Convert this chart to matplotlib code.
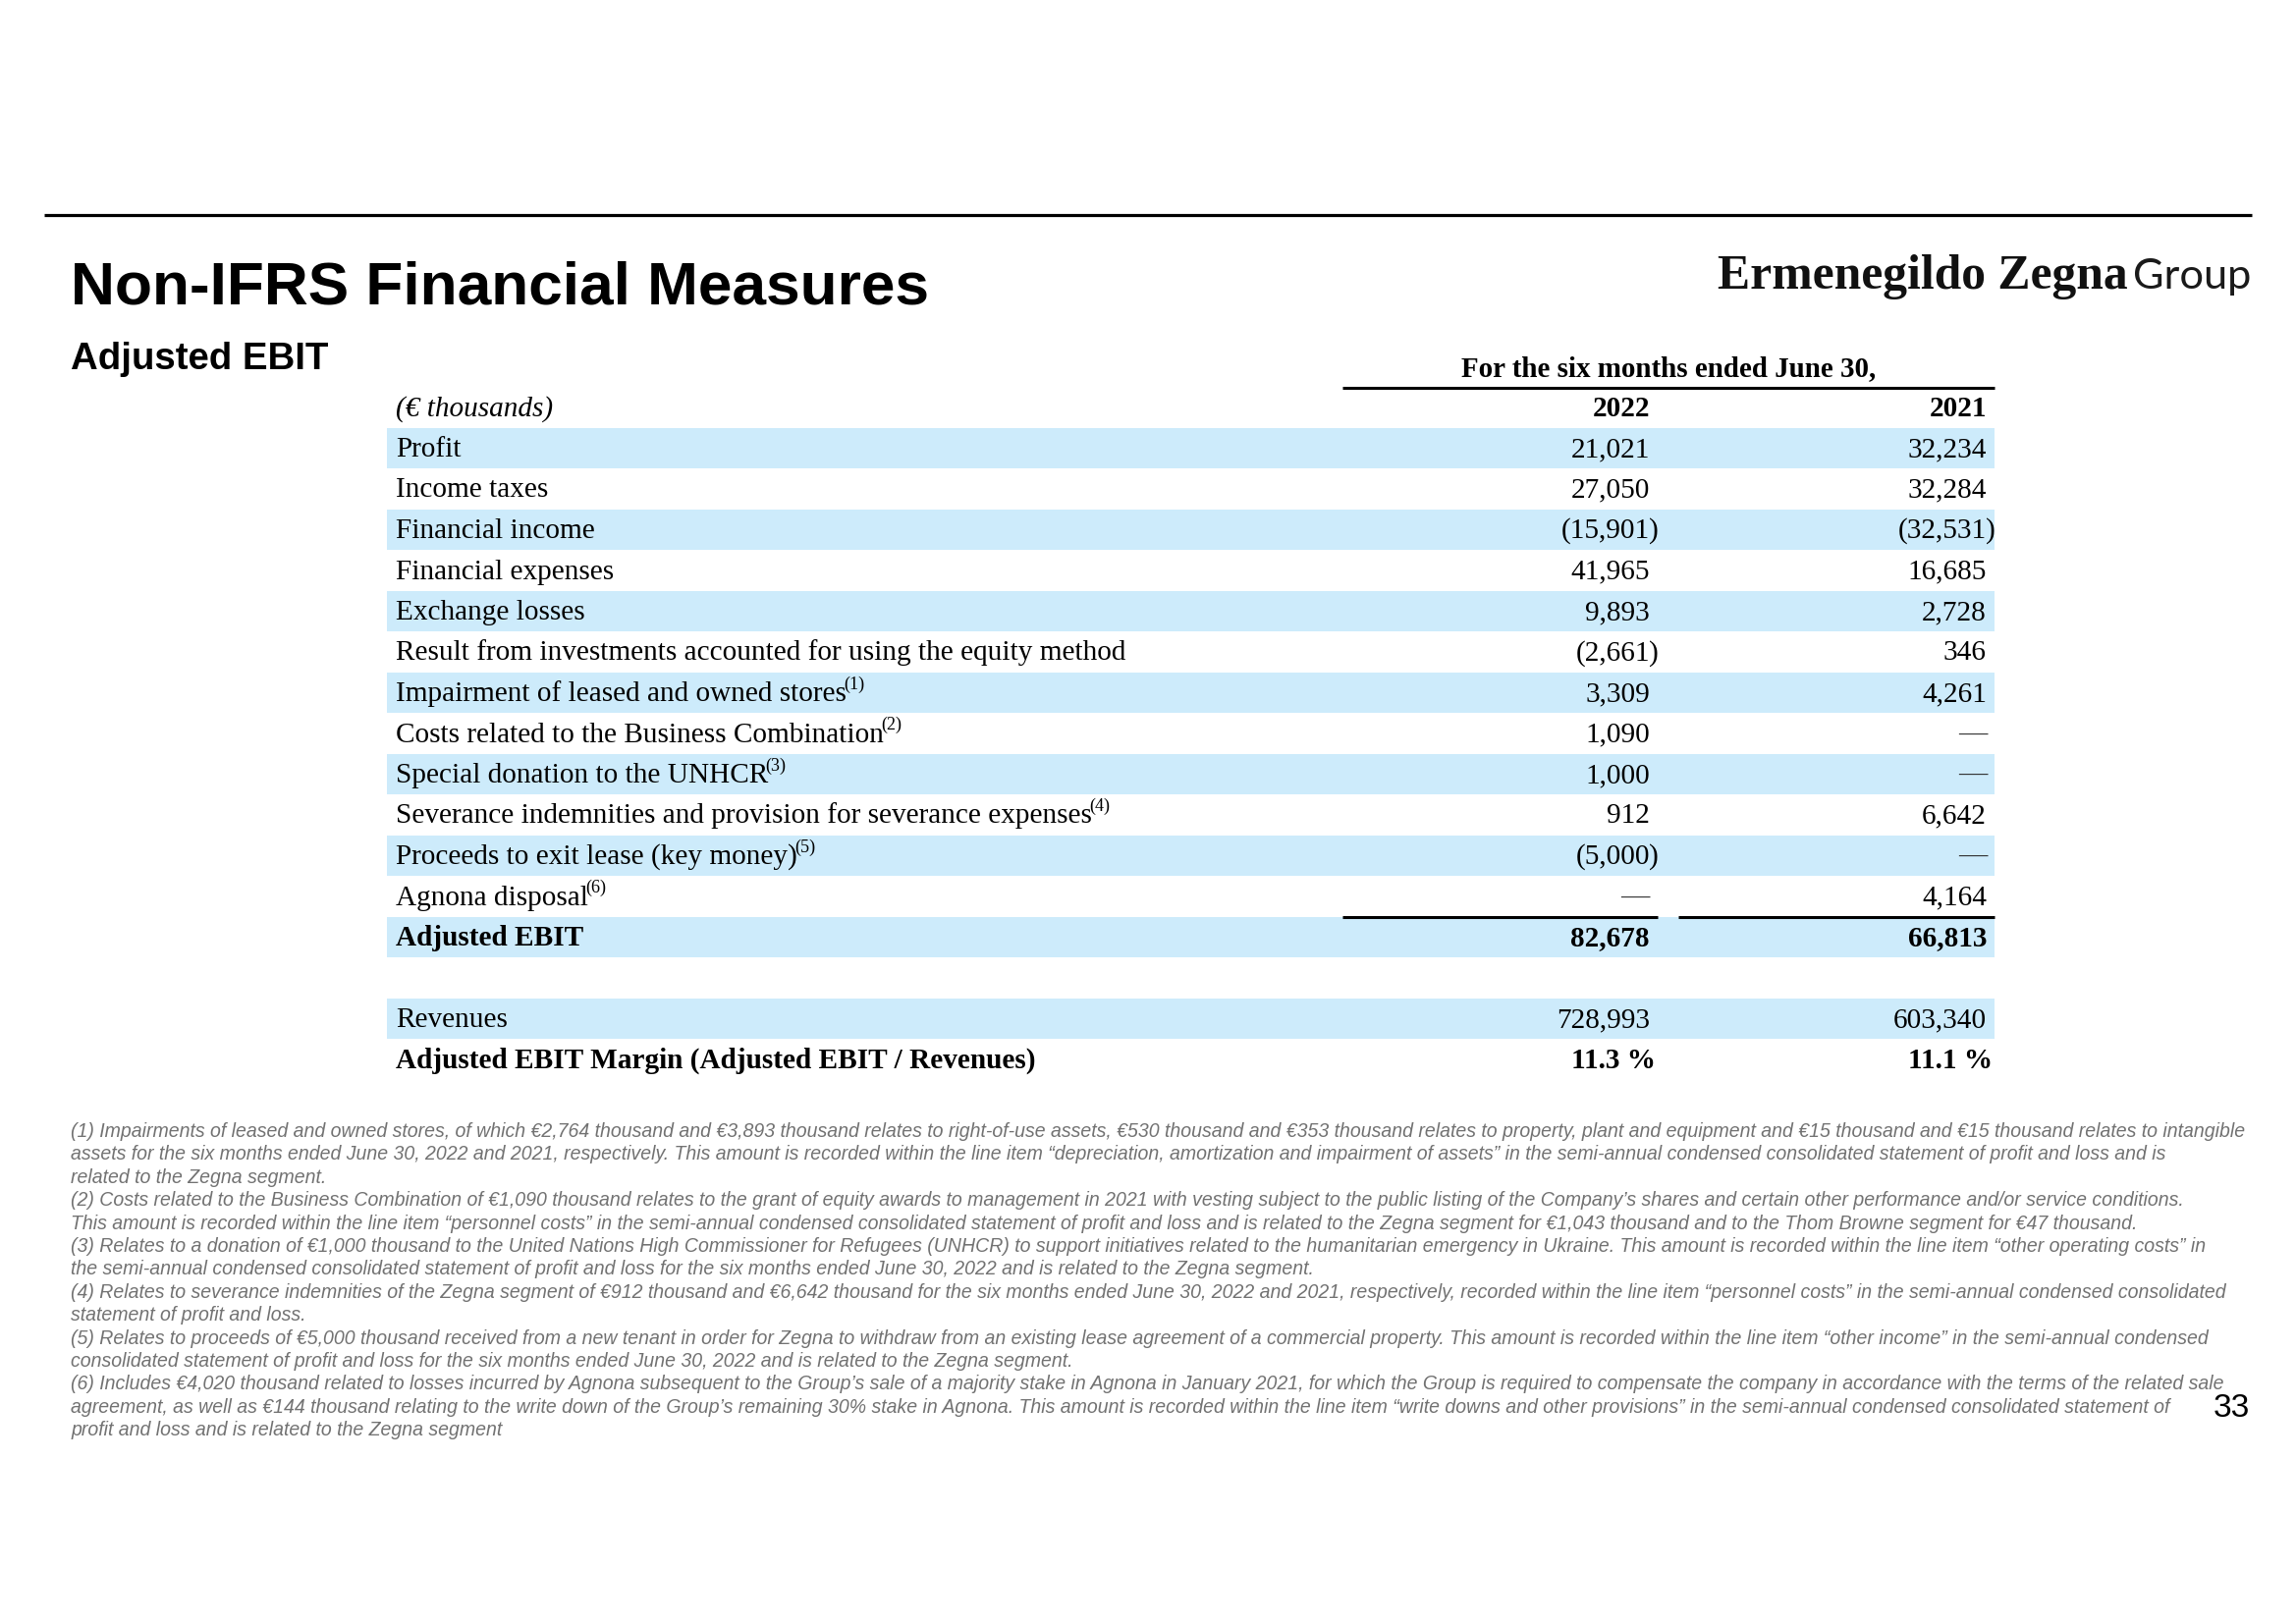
import matplotlib
matplotlib.use('Agg')
import matplotlib.pyplot as plt
from matplotlib import font_manager as fm

# ---------------- data ----------------
years = ['2022', '2021']
row_labels = [
    'Profit', 'Income taxes', 'Financial income', 'Financial expenses', 'Exchange losses',
    'Result from investments accounted for using the equity method',
    'Impairment of leased and owned stores', 'Costs related to the Business Combination',
    'Special donation to the UNHCR', 'Severance indemnities and provision for severance expenses',
    'Proceeds to exit lease (key money)', 'Agnona disposal', 'Adjusted EBIT',
]
row_notes = ['', '', '', '', '', '', '(1)', '(2)', '(3)', '(4)', '(5)', '(6)', '']
values_2022 = [21021, 27050, -15901, 41965, 9893, -2661, 3309, 1090, 1000, 912, -5000, None, 82678]
values_2021 = [32234, 32284, -32531, 16685, 2728, 346, 4261, None, None, 6642, None, 4164, 66813]
revenue_label = 'Revenues'
revenues = [728993, 603340]
margin_label = 'Adjusted EBIT Margin (Adjusted EBIT / Revenues)'
margins = [11.3, 11.1]

footnotes = [
    "(1) Impairments of leased and owned stores, of which €2,764 thousand and €3,893 thousand relates to right-of-use assets, €530 thousand and €353 thousand relates to property, plant and equipment and €15 thousand and €15 thousand relates to intangible",
    "assets for the six months ended June 30, 2022 and 2021, respectively. This amount is recorded within the line item “depreciation, amortization and impairment of assets” in the semi-annual condensed consolidated statement of profit and loss and is",
    "related to the Zegna segment.",
    "(2) Costs related to the Business Combination of €1,090 thousand relates to the grant of equity awards to management in 2021 with vesting subject to the public listing of the Company’s shares and certain other performance and/or service conditions.",
    "This amount is recorded within the line item “personnel costs” in the semi-annual condensed consolidated statement of profit and loss and is related to the Zegna segment for €1,043 thousand and to the Thom Browne segment for €47 thousand.",
    "(3) Relates to a donation of €1,000 thousand to the United Nations High Commissioner for Refugees (UNHCR) to support initiatives related to the humanitarian emergency in Ukraine. This amount is recorded within the line item “other operating costs” in",
    "the semi-annual condensed consolidated statement of profit and loss for the six months ended June 30, 2022 and is related to the Zegna segment.",
    "(4) Relates to severance indemnities of the Zegna segment of €912 thousand and €6,642 thousand for the six months ended June 30, 2022 and 2021, respectively, recorded within the line item “personnel costs” in the semi-annual condensed consolidated",
    "statement of profit and loss.",
    "(5) Relates to proceeds of €5,000 thousand received from a new tenant in order for Zegna to withdraw from an existing lease agreement of a commercial property. This amount is recorded within the line item “other income” in the semi-annual condensed",
    "consolidated statement of profit and loss for the six months ended June 30, 2022 and is related to the Zegna segment.",
    "(6) Includes €4,020 thousand related to losses incurred by Agnona subsequent to the Group’s sale of a majority stake in Agnona in January 2021, for which the Group is required to compensate the company in accordance with the terms of the related sale",
    "agreement, as well as €144 thousand relating to the write down of the Group’s remaining 30% stake in Agnona. This amount is recorded within the line item “write downs and other provisions” in the semi-annual condensed consolidated statement of",
    "profit and loss and is related to the Zegna segment",
]

# ---------------- layout ----------------
W, H, DPI = 2338, 1653, 100
fig = plt.figure(figsize=(W / DPI, H / DPI), dpi=DPI)
fig.patch.set_facecolor('white')
ax = fig.add_axes([0, 0, 1, 1])
ax.set_xlim(0, W)
ax.set_ylim(H, 0)
ax.axis('off')
renderer = fig.canvas.get_renderer()

names = {f.name for f in fm.fontManager.ttflist}
SERIF = 'Liberation Serif'
SANS = 'Liberation Sans'
NARROW = 'Liberation Sans Narrow' if 'Liberation Sans Narrow' in names else SANS
LIGHT = 'Lato' if 'Lato' in names else SANS

BAND = '#CDEBFB'
GREY = '#727272'


def width_of(text, size, **kw):
    t = ax.text(0, 0, text, fontsize=size, **kw)
    w = t.get_window_extent(renderer).width
    t.remove()
    return w


def fit(text, target_w, **kw):
    return 20 * target_w / width_of(text, 20, **kw)


def fmt(v):
    if v is None:
        return '—', ''
    if v < 0:
        return '({:,}'.format(-v), ')'
    return '{:,}'.format(v), ''


# top rule
ax.plot([45, 2293], [219, 219], color='black', lw=2.3, solid_capstyle='butt')

# title
ts = fit('Non-IFRS Financial Measures', 875, family=SANS, fontweight='bold')
ax.text(72, 310, 'Non-IFRS Financial Measures', fontsize=ts, family=SANS,
        fontweight='bold', va='baseline', ha='left')
ss = fit('Adjusted EBIT', 262, family=SANS, fontweight='bold')
ax.text(72, 376, 'Adjusted EBIT', fontsize=ss, family=SANS, fontweight='bold',
        va='baseline', ha='left')

# logo
gs = fit('Group', 121, family=LIGHT, fontweight='normal')
ax.text(2292, 294, 'Group', fontsize=gs, family=LIGHT, fontweight='normal',
        va='baseline', ha='right', color='#1a1a1a')
zs = fit('Ermenegildo Zegna', 418, family=SERIF, fontweight='bold')
ax.text(2167, 294, 'Ermenegildo Zegna', fontsize=zs, family=SERIF, fontweight='bold',
        va='baseline', ha='right', color='#111111')

# table geometry
X_BAND0, X_BAND1 = 394, 2031
X_LABEL = 403
X_COLS = [1680, 2023]
Y0, PITCH = 457, 41.5
BASE_OFF = 8
fs = fit(row_labels[5], 741, family=SERIF)


def row_y(i):
    return Y0 + i * PITCH


def label(i, text, note='', bold=False, italic=False):
    y = row_y(i) + BASE_OFF
    t = ax.text(X_LABEL, y, text, fontsize=fs, family=SERIF,
                fontweight='bold' if bold else 'normal',
                style='italic' if italic else 'normal', va='baseline', ha='left')
    if note:
        bb = t.get_window_extent(renderer)
        x_end = ax.transData.inverted().transform((bb.x1, 0))[0]
        ax.text(x_end - 3, y - fs * 0.42 * DPI / 72, note, fontsize=fs * 0.62, family=SERIF,
                va='baseline', ha='left')


def value(i, col, v, bold=False, pct=False):
    y = row_y(i) + BASE_OFF
    w = 'bold' if bold else 'normal'
    x = X_COLS[col]
    if pct:
        ax.text(x + 6, y, '{:.1f} %'.format(v), fontsize=fs, family=SERIF, fontweight=w,
                va='baseline', ha='right')
        return
    main, tail = fmt(v)
    if main == '—':
        ax.text(x, y, main, fontsize=fs, family=SERIF, va='baseline', ha='right', color='#333333')
        return
    ax.text(x, y, main, fontsize=fs, family=SERIF, fontweight=w, va='baseline', ha='right')
    if tail:
        ax.text(x - 1, y, tail, fontsize=fs, family=SERIF, fontweight=w, va='baseline', ha='left')


# header
hs = fit('For the six months ended June 30,', 422, family=SERIF, fontweight='bold')
ax.text(1699, 383, 'For the six months ended June 30,', fontsize=hs, family=SERIF,
        fontweight='bold', va='baseline', ha='center')
ax.plot([1367, 2031], [row_y(-1) - PITCH / 2, row_y(-1) - PITCH / 2], color='black', lw=2.2,
        solid_capstyle='butt')
label(-1, '(€ thousands)', italic=True)
for c, yr in enumerate(years):
    ax.text(X_COLS[c], row_y(-1) + BASE_OFF, yr, fontsize=fs, family=SERIF, fontweight='bold',
            va='baseline', ha='right')

# bands
n = len(row_labels)
for i in range(n):
    if i % 2 == 0:
        ax.add_patch(plt.Rectangle((X_BAND0, row_y(i) - PITCH / 2), X_BAND1 - X_BAND0, PITCH - 1,
                                   facecolor=BAND, edgecolor='none', zorder=0))
i_rev = n + 1
ax.add_patch(plt.Rectangle((X_BAND0, row_y(i_rev) - PITCH / 2), X_BAND1 - X_BAND0, PITCH - 1,
                           facecolor=BAND, edgecolor='none', zorder=0))

# rows
for i in range(n):
    bold = (i == n - 1)
    label(i, row_labels[i], row_notes[i], bold=bold)
    value(i, 0, values_2022[i], bold=bold)
    value(i, 1, values_2021[i], bold=bold)

# subtotal rules
ys = row_y(n - 1) - PITCH / 2
ax.plot([1367, 1688], [ys, ys], color='black', lw=2.2, solid_capstyle='butt')
ax.plot([1709, 2031], [ys, ys], color='black', lw=2.2, solid_capstyle='butt')

label(i_rev, revenue_label)
for c in range(2):
    value(i_rev, c, revenues[c])
label(i_rev + 1, margin_label, bold=True)
for c in range(2):
    value(i_rev + 1, c, margins[c], bold=True, pct=True)

# footnotes
fns = fit(footnotes[0], 2210, family=NARROW, style='italic')
for k, line in enumerate(footnotes):
    ax.text(72, 1158 + k * 23.4, line, fontsize=fns, family=NARROW, style='italic',
            color=GREY, va='baseline', ha='left')

# page number
ax.text(2272, 1443, '33', fontsize=30 if NARROW != SANS else 24, family=NARROW,
        va='baseline', ha='center')

fig.savefig('out.png', dpi=DPI, facecolor='white')
